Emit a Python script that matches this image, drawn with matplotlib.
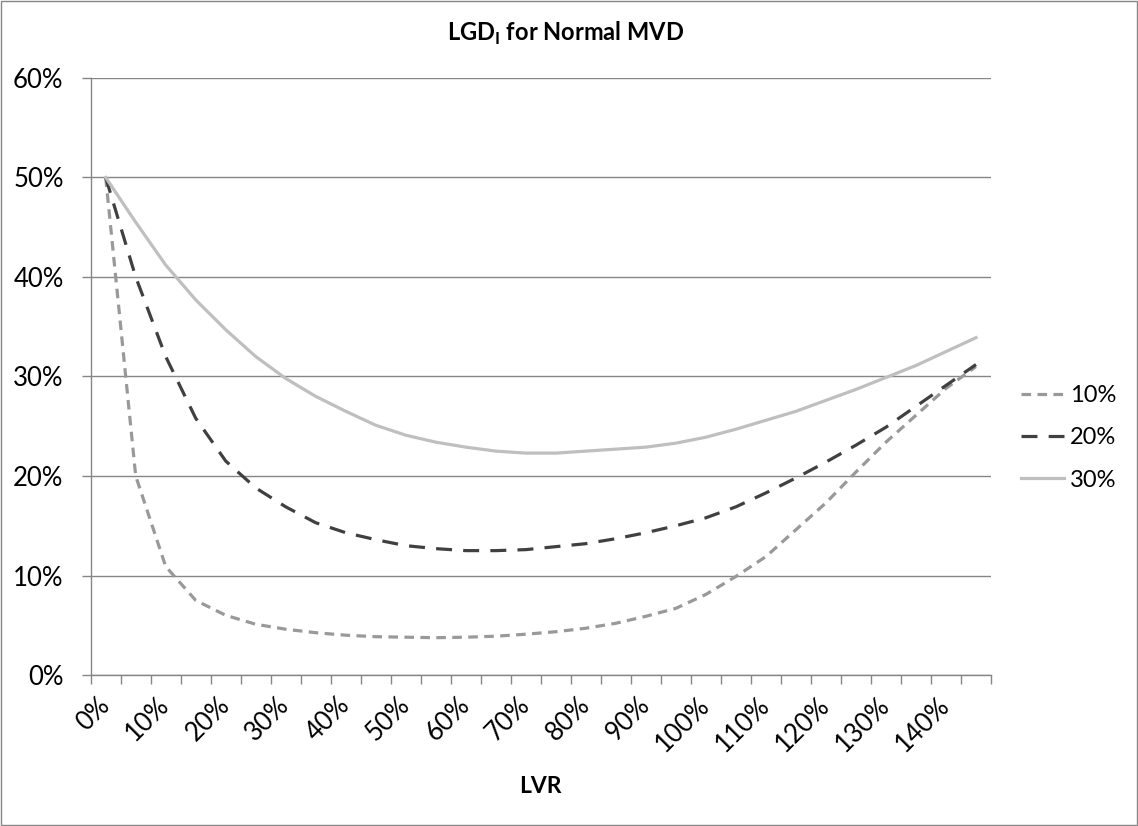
import matplotlib.pyplot as plt
from matplotlib.patches import Rectangle
from matplotlib.ticker import FixedLocator, MultipleLocator

plt.rcParams["font.family"] = ["Lato", "DejaVu Sans"]
plt.rcParams["mathtext.fontset"] = "custom"
plt.rcParams["mathtext.bf"] = "Lato:bold"
plt.rcParams["mathtext.rm"] = "Lato"

# LVR categories 0%..145% step 5%
lvr = [f"{v}%" for v in range(0, 150, 5)]

# LGD_I (%) per MVD volatility
lgd_10 = [50.0, 20.0, 10.9, 7.5, 6.0, 5.1, 4.6, 4.25, 4.0, 3.85,
          3.8, 3.75, 3.8, 3.9, 4.1, 4.35, 4.7, 5.2, 5.9, 6.7,
          8.1, 9.9, 11.9, 14.6, 17.3, 20.4, 23.4, 26.1, 28.8, 31.0]
lgd_20 = [50.0, 40.0, 32.0, 25.8, 21.5, 18.8, 16.9, 15.3, 14.3, 13.6,
          13.0, 12.7, 12.5, 12.5, 12.6, 12.9, 13.2, 13.7, 14.3, 15.0,
          15.8, 16.9, 18.3, 19.8, 21.4, 23.1, 24.9, 27.0, 29.1, 31.2]
lgd_30 = [50.0, 45.5, 41.2, 37.7, 34.7, 32.0, 29.8, 28.0, 26.5, 25.1,
          24.1, 23.4, 22.9, 22.5, 22.3, 22.3, 22.5, 22.7, 22.9, 23.3,
          23.9, 24.7, 25.6, 26.5, 27.6, 28.7, 29.9, 31.1, 32.5, 33.9]
series_names = ["10%", "20%", "30%"]

fig = plt.figure(figsize=(11.38, 8.26), dpi=100)
ax = fig.add_axes([0.0797, 0.1828, 0.7911, 0.7228])

x = list(range(len(lvr)))
ax.plot(x, lgd_10, color="#999999", lw=2.3, linestyle=(0, (3, 2)), label=series_names[0])
ax.plot(x, lgd_20, color="#404040", lw=2.3, linestyle=(0, (5, 3.5)), label=series_names[1])
ax.plot(x, lgd_30, color="#BFBFBF", lw=2.3, label=series_names[2])

ax.set_xlim(-0.5, len(lvr) - 0.5)
ax.set_ylim(0, 60)

grid_c = "#868686"
ax.yaxis.set_major_locator(MultipleLocator(10))
ax.set_yticklabels([f"{int(v)}%" for v in ax.get_yticks()])
ax.grid(axis="y", color=grid_c, lw=1)
ax.set_axisbelow(True)

ax.xaxis.set_major_locator(FixedLocator(x[::2]))
ax.set_xticklabels(lvr[::2], rotation=45, ha="right", va="center", rotation_mode="anchor")
ax.xaxis.set_minor_locator(FixedLocator([i - 0.5 for i in range(len(lvr) + 1)]))
ax.tick_params(axis="x", which="major", length=0, pad=19, labelsize=18.5)
ax.tick_params(axis="x", which="minor", length=6.5, color=grid_c, width=1)
ax.tick_params(axis="y", length=6.5, color=grid_c, width=1, pad=13, labelsize=18.5)

for s in ["top", "right"]:
    ax.spines[s].set_visible(False)
for s in ["left", "bottom"]:
    ax.spines[s].set_color(grid_c)
    ax.spines[s].set_linewidth(1)

ax.set_xlabel("LVR", fontsize=16.5, fontweight="bold", labelpad=14)
fig.text(0.497, 0.96, r"LGD$_{\mathbf{I}}$ for Normal MVD", ha="center", va="center",
         fontsize=17, fontweight="bold")

ax.legend(loc="center left", bbox_to_anchor=(0.883, 0.47), bbox_transform=fig.transFigure,
          frameon=False, fontsize=17, handlelength=1.8, handletextpad=0.25, labelspacing=0.9,
          borderpad=0.2)

fig.patches.append(Rectangle((0.0005, 0.0008), 0.999, 0.998, transform=fig.transFigure,
                             fill=False, edgecolor="#868686", lw=1))

fig.savefig("out.png", dpi=100)
